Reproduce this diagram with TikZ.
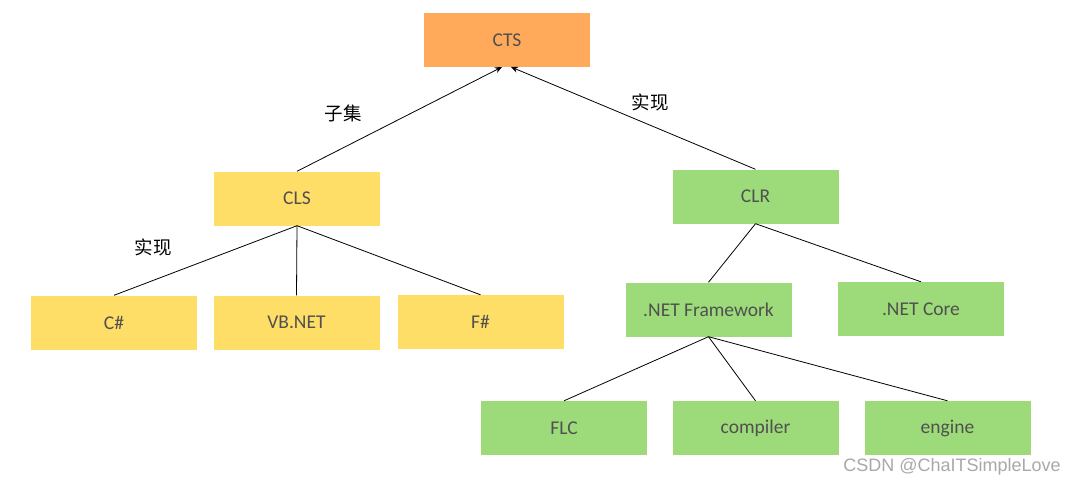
\documentclass[tikz,border=0pt]{standalone}
\usepackage{fontspec}
\setmainfont{Carlito}
\newfontfamily\cjk{Noto Sans CJK SC}
\newfontfamily\wm{Liberation Sans}
\usetikzlibrary{arrows.meta}
\definecolor{ctsC}{HTML}{FFA95B}
\definecolor{clsC}{HTML}{FFDE68}
\definecolor{clrC}{HTML}{9DDB7A}
\definecolor{txtC}{HTML}{505050}
\definecolor{wmC}{HTML}{A8A8A8}
\tikzset{
  box/.style={minimum width=166pt, minimum height=54pt, inner sep=0pt, text=txtC, font=\fontsize{19.5}{22}\selectfont},
  orangebox/.style={box, fill=ctsC},
  yellowbox/.style={box, fill=clsC},
  greenbox/.style={box, fill=clrC},
  conn/.style={draw=black, line width=0.8pt},
  arr/.style={conn, -{Stealth[length=7pt,width=6pt]}},
  lab/.style={font=\cjk\fontsize{18.5}{20}\selectfont, text=black, inner sep=0pt},
}
\begin{document}
\begin{tikzpicture}[x=1pt,y=-1pt]
\useasboundingbox (0,0) rectangle (1079,487);
\node[orangebox] (cts) at (507,40) {CTS};
\node[yellowbox] (cls) at (297,198.5) {CLS};
\node[greenbox] (clr) at (755.5,196.5) {CLR};
\node[yellowbox] (cs) at (114,322.5) {C\#};
\node[yellowbox] (vb) at (296.5,322.5) {VB.NET};
\node[yellowbox] (fs) at (480.5,322) {F\#};
\node[greenbox] (fw) at (708.5,309.5) {.NET Framework};
\node[greenbox] (core) at (921,309) {.NET Core};
\node[greenbox] (flc) at (564,428) {FLC};
\node[greenbox] (comp) at (755.5,428) {compiler};
\node[greenbox] (eng) at (947.5,428) {engine};
\coordinate (ctsL) at (502,67);
\coordinate (ctsR) at (511,67);
\draw[arr] (cls.north) -- (ctsL);
\draw[arr] (clr.north) -- (ctsR);
\draw[conn] (cls.south) -- (cs.north);
\draw[conn] (cls.south) -- (vb.north);
\draw[conn] (cls.south) -- (fs.north);
\draw[conn] (clr.south) -- (fw.north);
\draw[conn] (clr.south) -- (core.north);
\draw[conn] (fw.south) -- (flc.north);
\draw[conn] (fw.south) -- (comp.north);
\draw[conn] (fw.south) -- (eng.north);
\node[lab] (l1) at (343,113) {子集};
\node[lab] (l2) at (650,102) {实现};
\node[lab] (l3) at (153,247) {实现};
\node[font=\wm\fontsize{18}{20}\selectfont, text=wmC, inner sep=0pt] (wm) at (952,467) {CSDN @ChaITSimpleLove};
\end{tikzpicture}
\end{document}
